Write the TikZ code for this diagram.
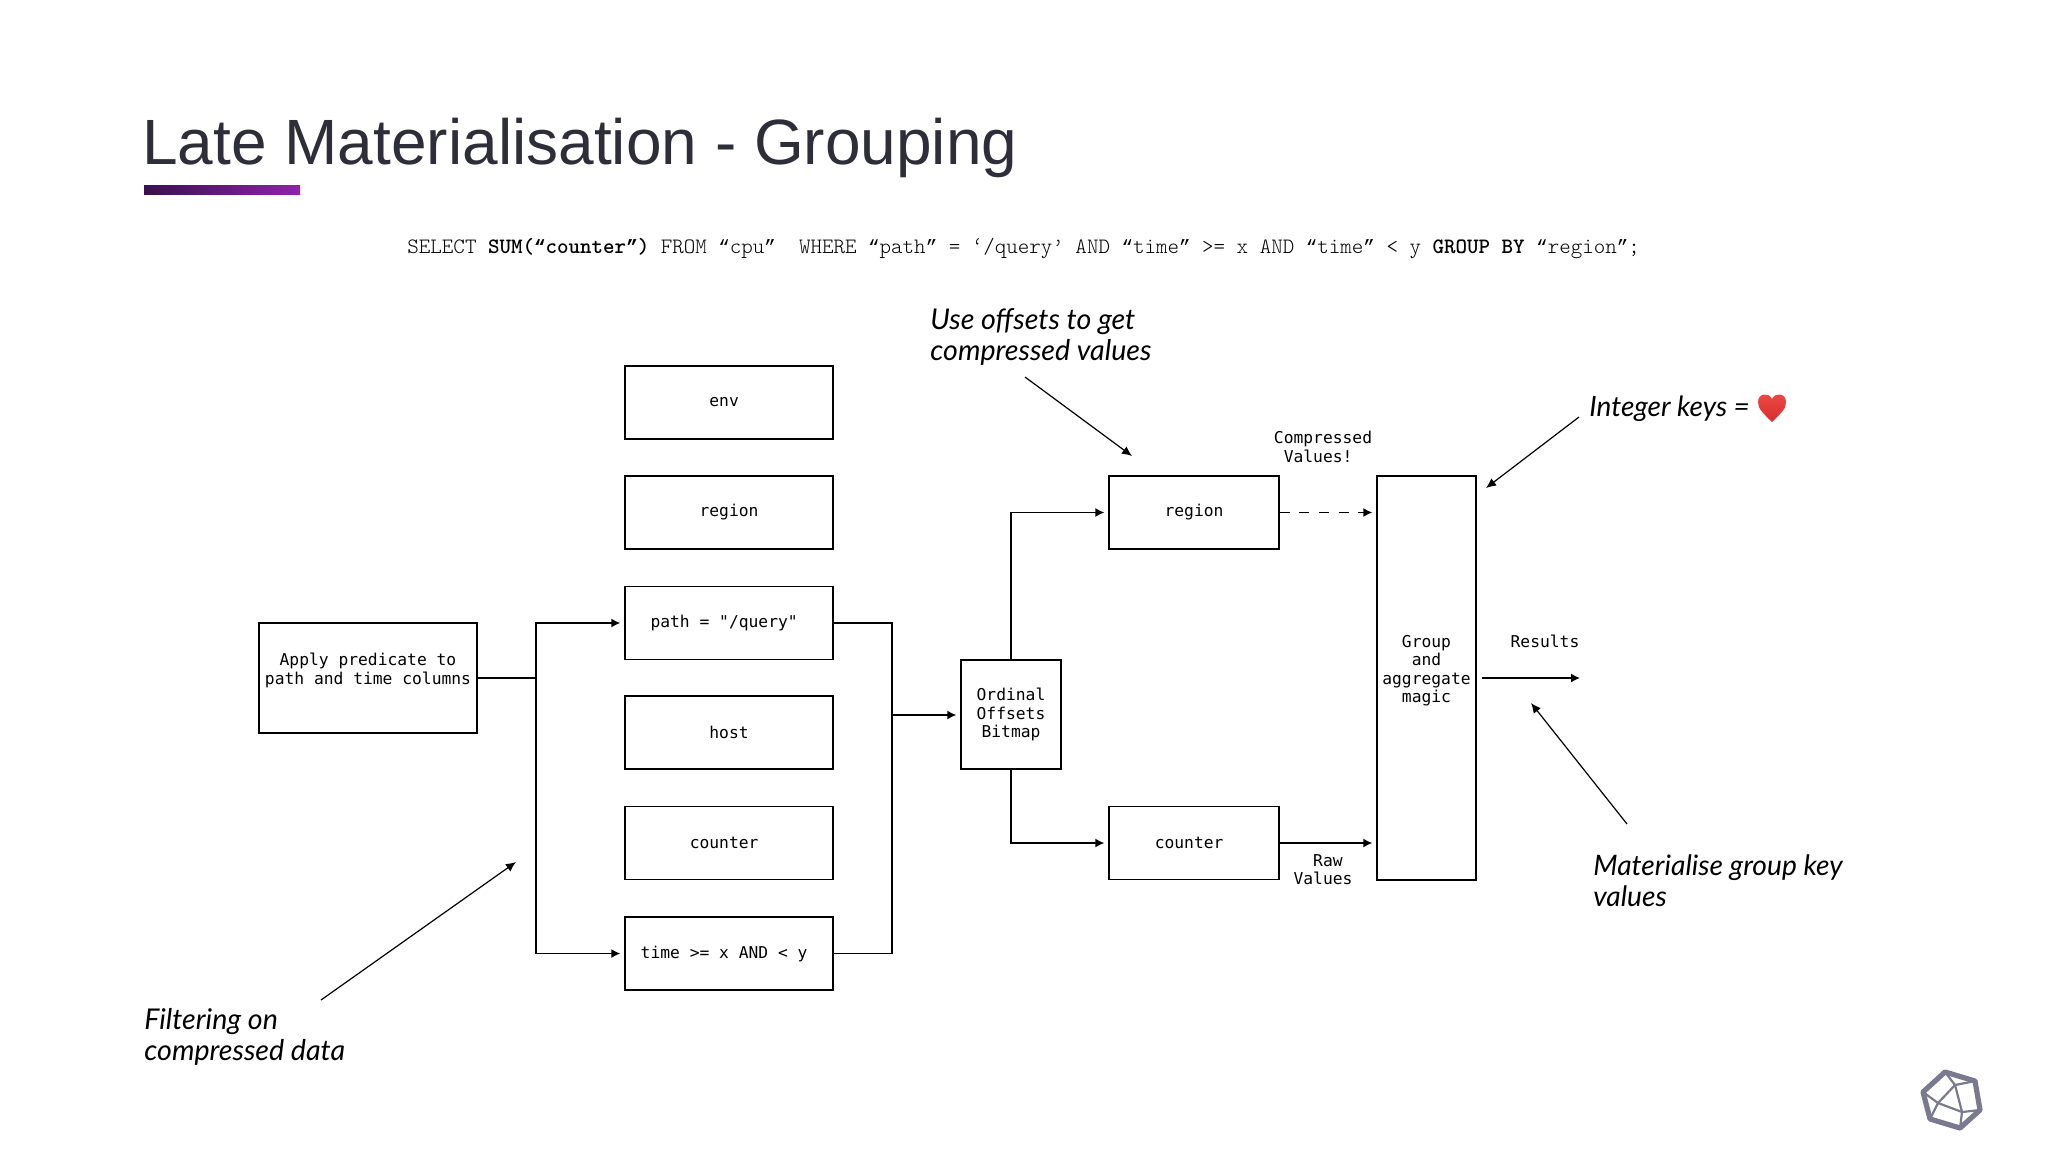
\documentclass[tikz,border=0pt]{standalone}
\usepackage{fontspec}
\usetikzlibrary{arrows.meta}
\setmainfont{Liberation Sans}
\newfontfamily\notefont{Lato}
\setmonofont{DejaVu Sans Mono}
\newfontfamily\sqlfont{Latin Modern Mono Light}
\newfontfamily\quotefont[Scale=0.875]{Liberation Mono}
\newcommand{\sqlq}[1]{{\quotefont“}#1{\quotefont”}}
\definecolor{titleink}{HTML}{2E2E38}
\definecolor{logoink}{HTML}{7A7A8E}
\definecolor{bardark}{HTML}{3A1050}
\definecolor{barlight}{HTML}{8E24A6}
\definecolor{heartlight}{HTML}{EE4B45}
\definecolor{heartdark}{HTML}{D62D2D}
\tikzset{
  colbox/.style={draw,line width=0.7pt,minimum width=104pt,minimum height=36.5pt,inner sep=0pt,align=center,font=\fontsize{8.15}{9.15}\selectfont\ttfamily},
  tag/.style={inner sep=0pt,align=center,font=\fontsize{8.15}{9.15}\selectfont\ttfamily},
  note/.style={inner sep=0pt,anchor=west,align=left,font=\fontsize{14.3}{15.5}\selectfont\notefont\itshape},
  flow/.style={-{Latex[length=4.5pt,width=4.5pt]},line width=0.7pt,shorten >=2pt},
  pointer/.style={-{Latex[length=5pt,width=4.5pt]},line width=0.6pt}
}
\begin{document}
\begin{tikzpicture}[x=0.5pt,y=-0.5pt]
  \useasboundingbox (0,0) rectangle (2048,1152);
  \fill[white] (0,0) rectangle (2048,1152);
  \node[inner sep=0pt,anchor=west,text=titleink,font=\fontsize{32}{36}\selectfont] (title) at (142,148) {Late Materialisation - Grouping};
  \shade[left color=bardark,right color=barlight] (144,185) rectangle (300,194);
  \node[inner sep=0pt,anchor=west,font=\fontsize{10.97}{12}\selectfont\sqlfont] (query) at (407,248)
    {SELECT \textbf{SUM(\sqlq{counter})} FROM \sqlq{cpu}\ \ WHERE \sqlq{path} = ‘/query’ AND \sqlq{time} >= x AND \sqlq{time} < y \textbf{GROUP BY} \sqlq{region};};
  \draw
    (729,402.5) node[colbox] (env){env\phantom{x}}
    (729,512.5) node[colbox] (region){region}
    (729,623) node[colbox] (path){path = "/query"\phantom{x}}
    (729,732.5) node[colbox] (host){host}
    (729,843) node[colbox] (counter){counter\phantom{x}}
    (729,953.5) node[colbox] (time){time >= x AND < y\phantom{x}}
    (368,678) node[colbox,minimum width=109pt,minimum height=55pt] (apply){Apply predicate to\\path and time columns\\\phantom{x}}
    (1011,714.5) node[colbox,minimum width=50pt,minimum height=54.5pt] (ordinal){Ordinal\\Offsets\\Bitmap}
    (1194,512.5) node[colbox,minimum width=85pt] (regionval){region}
    (1194,843) node[colbox,minimum width=85pt] (counterval){counter\phantom{x}}
    (1426.5,678) node[colbox,minimum width=49.5pt,minimum height=202pt] (group){Group\\and\\aggregate\\magic\\\phantom{x}};
  \draw
    (1323,447) node[tag] (compressed){Compressed\\Values!\phantom{x}}
    (1323,870) node[tag] (raw){\phantom{x}Raw\\Values}
    (1545,641) node[tag] (results){Results};
  \coordinate (splitbus) at (536,678);
  \coordinate (joinbus) at (892,715);
  \coordinate (resultend) at (1580,678);
  \begin{scope}[line width=0.7pt]
    \draw (apply.east |- splitbus) -- (splitbus);
    \draw[flow] (splitbus) |- (path.west);
    \draw[flow] (splitbus) |- (time.west);
    \draw (path.east) -| (joinbus);
    \draw (time.east) -| (joinbus);
    \draw[flow] (joinbus) -- (ordinal.west |- joinbus);
    \draw[flow] (ordinal.north) |- (regionval.west);
    \draw[flow] (ordinal.south) |- (counterval.west);
    \draw[flow,dash pattern=on 5pt off 4.8pt] (regionval.east) -- (regionval.east -| group.west);
    \draw[flow] (counterval.east) -- (counterval.east -| group.west);
    \draw[flow,shorten <=2.5pt,shorten >=0pt] (group.east |- resultend) -- (resultend);
  \end{scope}
  % notes around the plan
  \node[note] (offsetsnote) at (930,337) {Use offsets to get\\compressed values};
  \node[note,font=\fontsize{14}{15.5}\selectfont\notefont\itshape] (keysnote) at (1589,409) {Integer keys =};
  \node[note,font=\fontsize{14.1}{15.5}\selectfont\notefont\itshape] (groupnote) at (1593,881) {Materialise group key\\values};
  \node[note] (filternote) at (144,1037) {Filtering on\\compressed data};
  \coordinate (offsetsfrom) at (1025,377);
  \coordinate (offsetsto) at (1132,456);
  \coordinate (keysfrom) at (1579,417);
  \coordinate (keysto) at (1486,488);
  \coordinate (groupfrom) at (1627,824);
  \coordinate (groupto) at (1531,703);
  \coordinate (filterfrom) at (321,1000);
  \coordinate (filterto) at (516,862);
  \draw[pointer] (offsetsfrom) -- (offsetsto);
  \draw[pointer] (keysfrom) -- (keysto);
  \draw[pointer] (groupfrom) -- (groupto);
  \draw[pointer] (filterfrom) -- (filterto);
  % heart
  \shade[top color=heartlight,bottom color=heartdark]
    (1772,422) .. controls (1763,413) and (1758,409) .. (1758,402)
    .. controls (1758,393) and (1769,392) .. (1772,399)
    .. controls (1775,392) and (1786,393) .. (1786,402)
    .. controls (1786,409) and (1781,413) .. (1772,422) -- cycle;
  % logo
  \draw[logoink,line width=2.6pt,line join=round] (1945,1072) -- (1975,1081) -- (1980,1110) -- (1960,1128) -- (1930,1119) -- (1923,1092) -- cycle;
  \draw[logoink,line width=1.1pt] (1945,1072) -- (1955,1085) -- (1975,1081);
  \draw[logoink,line width=1.1pt] (1955,1085) -- (1938,1103) -- (1923,1092);
  \draw[logoink,line width=1.1pt] (1955,1085) -- (1962,1112) -- (1980,1110);
  \draw[logoink,line width=1.1pt] (1938,1103) -- (1962,1112) -- (1960,1128);
  \draw[logoink,line width=1.1pt] (1938,1103) -- (1930,1119);
\end{tikzpicture}
\end{document}
